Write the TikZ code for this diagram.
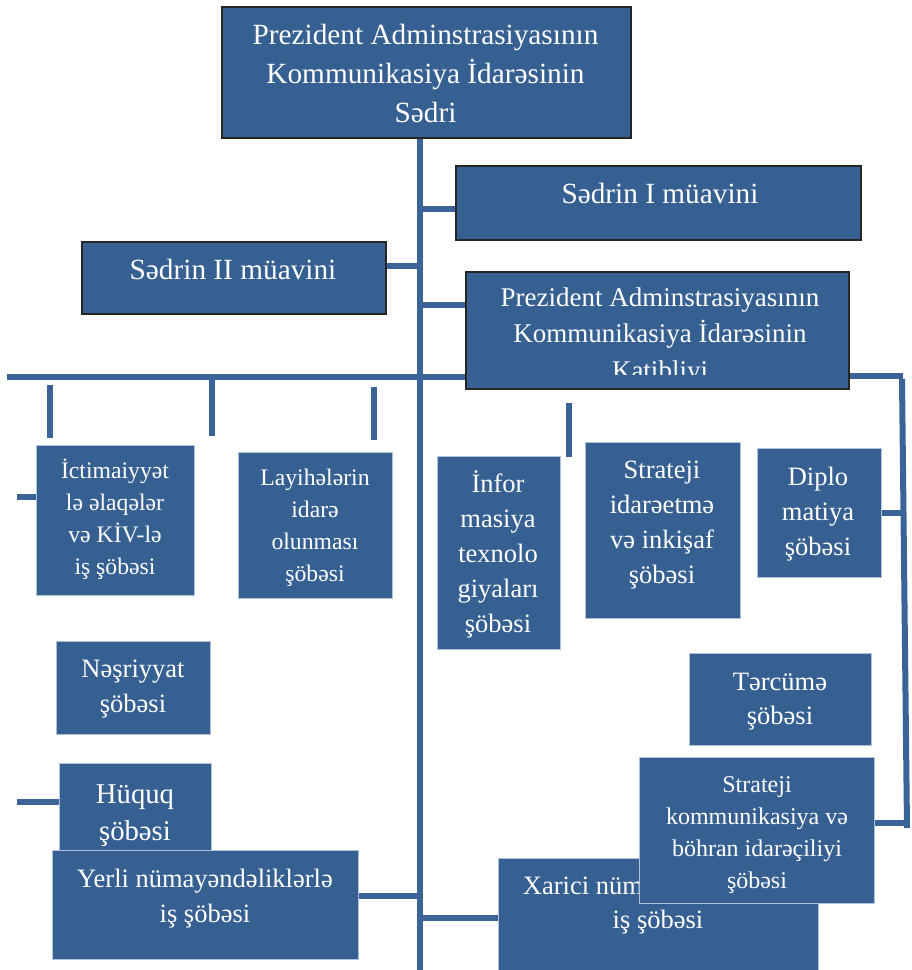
\documentclass[tikz,border=0pt]{standalone}
\usepackage{fontspec}
\setmainfont{Liberation Serif}
\definecolor{boxblue}{RGB}{55,96,146}
\definecolor{lineblue}{RGB}{58,99,152}
\definecolor{rimblue}{RGB}{175,195,220}
\tikzset{
  conn/.style={draw=lineblue, line width=6pt},
  topbox/.style={fill=boxblue, draw=black!85, line width=1.5pt, inner sep=0pt, anchor=north west},
  depbox/.style={fill=boxblue, draw=rimblue, line width=0.8pt, inner sep=0pt, anchor=north west},
  txt/.style={text=white, align=center, inner sep=0pt, anchor=base},
  fA/.style={font=\fontsize{29.3}{39}\selectfont},
  fB/.style={font=\fontsize{27}{36.5}\selectfont},
  fC/.style={font=\fontsize{26.5}{35}\selectfont},
  fD/.style={font=\fontsize{23.7}{31.7}\selectfont},
  fE/.style={font=\fontsize{28.7}{37}\selectfont},
  fF/.style={font=\fontsize{24}{32}\selectfont},
}
\begin{document}
\begin{tikzpicture}[x=1pt,y=-1pt]
\useasboundingbox (0,0) rectangle (912,970);
% coordinates on lines
\coordinate (mtop) at (420,137);
\coordinate (mbot) at (420,972);
\coordinate (j1) at (420,209);
\coordinate (j2) at (420,266);
\coordinate (j3) at (420,305);
\coordinate (j4) at (420,896);
\coordinate (j5) at (420,918);
\coordinate (busL) at (7,377);
\coordinate (busR) at (903,376);
\coordinate (rtop) at (902,379);
\coordinate (rbot) at (907,828);
\coordinate (rj1) at (903,513);
\coordinate (rj2) at (907,823);
\coordinate (s1a) at (50,385);
\coordinate (s1b) at (50,438);
\coordinate (s2a) at (212,377);
\coordinate (s2b) at (212,436);
\coordinate (s3a) at (374,387);
\coordinate (s3b) at (374,440);
\coordinate (s4a) at (569,403);
\coordinate (s4b) at (569,457);
\coordinate (h1) at (17,497);
\coordinate (h2) at (17,802);

\draw[conn] (mtop) -- (mbot);
\draw[conn] (s1a) -- (s1b);
\draw[conn] (s2a) -- (s2b);
\draw[conn] (s3a) -- (s3b);
\draw[conn] (s4a) -- (s4b);
\draw[conn] (rtop) -- (rbot);

\node[topbox, minimum width=409pt, minimum height=131pt] (sedr) at (221,6) {};
\node[txt, fA] (sedr-t) at (425.5,122) {Prezident Adminstrasiyasının\\Kommunikasiya İdarəsinin\\Sədri};

\node[topbox, minimum width=405pt, minimum height=74pt] (muav1) at (455,165) {};
\node[txt, fA] (muav1-t) at (660,203) {Sədrin I müavini};
\draw[conn] (j1) -- (j1 -| muav1.west);

\node[topbox, minimum width=304pt, minimum height=72pt] (muav2) at (81,241) {};
\node[txt, fA] (muav2-t) at (233,279) {Sədrin II müavini};
\draw[conn] (j2 -| muav2.east) -- (j2);

\node[topbox, minimum width=383pt, minimum height=117pt] (katib) at (465,271) {};
\draw[conn] (j3) -- (j3 -| katib.west);
\draw[conn] (busL) -- (busL -| katib.west);
\draw[conn] (busR -| katib.east) -- (busR);
\begin{scope}
\clip (466,272) rectangle (847,374);
\node[txt, fB] (katib-t) at (660,379) {Prezident Adminstrasiyasının\\Kommunikasiya İdarəsinin\\Katibliyi};
\end{scope}

\node[depbox, minimum width=158pt, minimum height=150pt] (ictimai) at (36,445) {};
\node[txt, fD] (ictimai-t) at (115,574) {İctimaiyyət\\lə əlaqələr\\və KİV-lə\\iş şöbəsi};
\draw[conn] (h1) -- (h1 -| ictimai.west);

\node[depbox, minimum width=154pt, minimum height=146pt] (layihe) at (238,452) {};
\node[txt, fD] (layihe-t) at (315,581) {Layihələrin\\idarə\\olunması\\şöbəsi};

\node[depbox, minimum width=123pt, minimum height=193pt] (infor) at (437,456) {};
\node[txt, fC] (infor-t) at (498,632) {İnfor\\masiya\\texnolo\\giyaları\\şöbəsi};

\node[depbox, minimum width=155pt, minimum height=176pt] (stride) at (585,442) {};
\node[txt, fC] (stride-t) at (662,583) {Strateji\\idarəetmə\\və inkişaf\\şöbəsi};

\node[depbox, minimum width=124pt, minimum height=129pt] (diplo) at (757,448) {};
\node[txt, fC] (diplo-t) at (818,555) {Diplo\\matiya\\şöbəsi};
\draw[conn] (diplo.east |- rj1) -- (rj1);

\node[depbox, minimum width=154pt, minimum height=93pt] (nesr) at (56,641) {};
\node[txt, fC] (nesr-t) at (133,712) {Nəşriyyat\\şöbəsi};

\node[depbox, minimum width=182pt, minimum height=92pt] (tercume) at (689,653) {};
\node[txt, font=\fontsize{26.5}{34}\selectfont] (tercume-t) at (780,724) {Tərcümə\\şöbəsi};

\node[depbox, minimum width=152pt, minimum height=92pt] (huquq) at (59,763) {};
\node[txt, fE] (huquq-t) at (135,840) {Hüquq\\şöbəsi};
\draw[conn] (h2) -- (h2 -| huquq.west);

\node[depbox, minimum width=306pt, minimum height=109pt] (yerli) at (52,850) {};
\node[txt, fC] (yerli-t) at (205,922) {Yerli nümayəndəliklərlə\\iş şöbəsi};
\draw[conn] (j4 -| yerli.east) -- (j4);

\node[depbox, minimum width=320pt, minimum height=125pt] (xarici) at (498,858) {};
\node[txt, font=\fontsize{26.5}{34}\selectfont] (xarici-t) at (658,928) {Xarici nümayəndəliklərlə\\iş şöbəsi};
\draw[conn] (j5) -- (j5 -| xarici.west);

\node[depbox, minimum width=235pt, minimum height=146pt] (strkom) at (639,757) {};
\node[txt, fF] (strkom-t) at (757,888) {Strateji\\kommunikasiya və\\böhran idarəçiliyi\\şöbəsi};
\draw[conn] (strkom.east |- rj2) -- (rj2);
\end{tikzpicture}
\end{document}
